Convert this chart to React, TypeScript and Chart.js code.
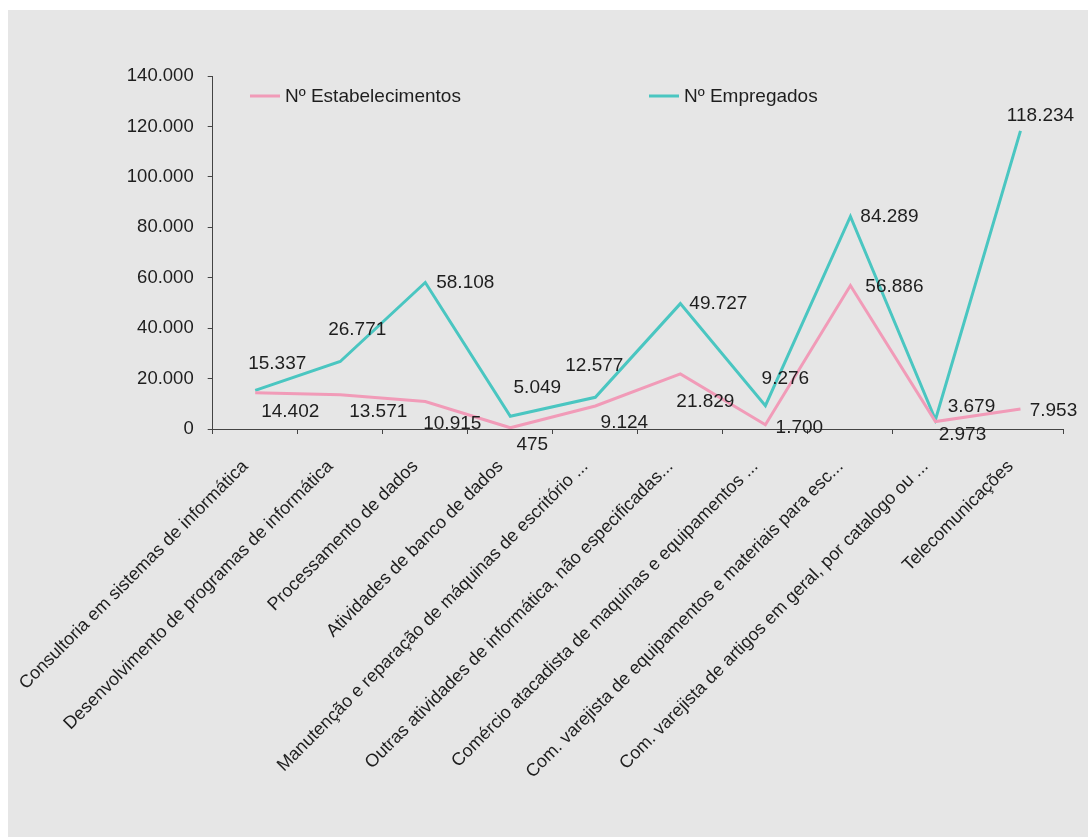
import React, { useEffect, useRef } from "react";
import { Chart, registerables } from "chart.js";

Chart.register(...registerables);

const categories = [
  "Consultoria em sistemas de informática",
  "Desenvolvimento de programas de informática",
  "Processamento de dados",
  "Atividades de banco de dados",
  "Manutenção e reparação de máquinas de escritório ...",
  "Outras atividades de informática, não especificadas...",
  "Comércio atacadista de maquinas e equipamentos ...",
  "Com. varejista de equipamentos e materiais para esc...",
  "Com. varejista de artigos em geral, por catalogo ou ...",
  "Telecomunicações",
];

const estabelecimentos = [14402, 13571, 10915, 475, 9124, 21829, 1700, 56886, 2973, 7953];
const empregados = [15337, 26771, 58108, 5049, 12577, 49727, 9276, 84289, 3679, 118234];

const seriesNames = ["Nº Estabelecimentos", "Nº Empregados"];

const yMin = 0;
const yMax = 140000;
const yStep = 20000;

// data-label offsets (pixels from the point), styling only
const estabLabelOffsets = [[35, 19], [38, 17], [27, 22], [22, 17], [29, 17], [25, 28], [34, 3], [44, 1], [27, 13], [33, 2]];
const empregLabelOffsets = [[22, -27], [17, -32], [40, 0], [27, -29], [-1, -32], [38, 0], [20, -27], [39, 0], [36, -13], [20, -15]];

const PINK = "#f19bb8";
const TEAL = "#4ac6c1";
const TEXT = "#1e1e1e";
const AXIS = "#444444";
const FONT = '"Liberation Sans", Arial, sans-serif';

function fmt(v: number): string {
  const s = Math.round(v).toString();
  return s.replace(/\B(?=(\d{3})+(?!\d))/g, ".");
}

const labelPlugin = {
  id: "customLabels",
  afterDatasetsDraw(chart: any) {
    const ctx = chart.ctx;
    ctx.save();
    ctx.font = `19px ${FONT}`;
    ctx.fillStyle = TEXT;
    ctx.textAlign = "center";
    ctx.textBaseline = "middle";
    const offs = [estabLabelOffsets, empregLabelOffsets];
    chart.data.datasets.forEach((ds: any, di: number) => {
      const meta = chart.getDatasetMeta(di);
      meta.data.forEach((pt: any, i: number) => {
        const o = offs[di][i];
        ctx.fillText(fmt(ds.data[i]), pt.x + o[0], pt.y + o[1]);
      });
    });
    ctx.restore();
  },
};

const legendPlugin = {
  id: "customLegend",
  afterDraw(chart: any) {
    const ctx = chart.ctx;
    ctx.save();
    ctx.font = `19px ${FONT}`;
    ctx.fillStyle = TEXT;
    ctx.textBaseline = "middle";
    ctx.textAlign = "left";
    const items = [
      { x: 242, color: PINK, text: seriesNames[0] },
      { x: 641, color: TEAL, text: seriesNames[1] },
    ];
    const y = 86;
    items.forEach((it) => {
      ctx.strokeStyle = it.color;
      ctx.lineWidth = 3;
      ctx.beginPath();
      ctx.moveTo(it.x, y);
      ctx.lineTo(it.x + 30, y);
      ctx.stroke();
      ctx.fillText(it.text, it.x + 35, y + 1);
    });
    ctx.restore();
  },
};

export default function App() {
  const ref = useRef<HTMLCanvasElement>(null);
  useEffect(() => {
    if (!ref.current) return;
    const chart = new Chart(ref.current, {
      type: "line",
      data: {
        labels: categories,
        datasets: [
          {
            label: seriesNames[0],
            data: estabelecimentos,
            borderColor: PINK,
            backgroundColor: PINK,
            borderWidth: 3,
            pointRadius: 0,
            tension: 0,
            fill: false,
          },
          {
            label: seriesNames[1],
            data: empregados,
            borderColor: TEAL,
            backgroundColor: TEAL,
            borderWidth: 3,
            pointRadius: 0,
            tension: 0,
            fill: false,
          },
        ],
      },
      options: {
        responsive: false,
        animation: false,
        devicePixelRatio: 1,
        layout: { padding: { top: 66, right: 25, left: 0, bottom: 0 } },
        plugins: {
          legend: { display: false },
          tooltip: { enabled: false },
        },
        scales: {
          x: {
            type: "category",
            offset: true,
            grid: {
              offset: true,
              drawOnChartArea: false,
              drawTicks: true,
              tickLength: 5,
              color: AXIS,
            },
            border: { display: true, color: AXIS, width: 1 },
            ticks: {
              autoSkip: false,
              maxRotation: 45,
              minRotation: 45,
              padding: 22,
              labelOffset: -10,
              color: TEXT,
              font: { family: FONT, size: 18 },
            },
            afterFit(scale: any) {
              scale.height = 408;
              scale.paddingLeft = 0;
              scale.paddingRight = 0;
            },
          },
          y: {
            min: yMin,
            max: yMax,
            grid: {
              drawOnChartArea: false,
              drawTicks: true,
              tickLength: 5,
              color: AXIS,
            },
            border: { display: true, color: AXIS, width: 1 },
            ticks: {
              stepSize: yStep,
              padding: 14,
              color: TEXT,
              font: { family: FONT, size: 18.5 },
              callback: (v: any) => fmt(Number(v)),
            },
            afterFit(scale: any) {
              scale.width = 204.7;
              scale.paddingTop = 0;
              scale.paddingBottom = 0;
            },
          },
        },
      },
      plugins: [labelPlugin, legendPlugin],
    });
    return () => chart.destroy();
  }, []);
  return (
    <div
      style={{
        position: "absolute",
        left: 8,
        top: 10,
        width: 1080,
        height: 827,
        background: "#e6e6e6",
      }}
    >
      <canvas ref={ref} width={1080} height={827} />
    </div>
  );
}
